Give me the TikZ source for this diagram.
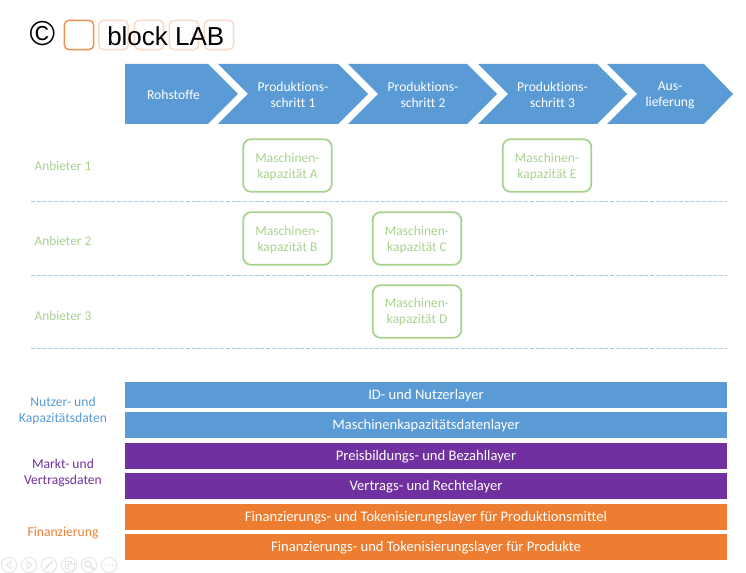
\documentclass[tikz,border=0pt]{standalone}
\usepackage{fontspec}
\setmainfont[Ligatures=NoCommon]{Carlito}
\newfontfamily\logofont{Liberation Sans}
\definecolor{cblue}{HTML}{5B9BD5}
\definecolor{cpurple}{HTML}{7030A0}
\definecolor{corange}{HTML}{ED7D31}
\definecolor{cgreen}{HTML}{A9D18E}
\definecolor{cdash}{HTML}{A9C9E8}
\definecolor{cfade}{HTML}{FAD9C6}
\definecolor{cnav}{HTML}{E4E4E4}
\tikzset{
  chev/.style={fill=cblue,draw=none},
  chevtext/.style={text=white,font=\fontsize{10.2}{12}\selectfont,align=center,inner sep=0pt},
  machine/.style={draw=cgreen,line width=1.3pt,rounded corners=6pt,minimum width=66.5pt,minimum height=39.5pt,inner sep=0pt},
  machinetext/.style={text=cgreen,font=\fontsize{10.1}{12}\selectfont,align=center,inner sep=0pt},
  rowlabel/.style={text=cgreen,font=\fontsize{10}{12}\selectfont,inner sep=0pt},
  grouplabel/.style={font=\fontsize{10.2}{12.4}\selectfont,align=center,inner sep=0pt},
  layerbar/.style={minimum width=451.5pt,minimum height=19.5pt,inner sep=0pt},
  layertext/.style={text=white,font=\fontsize{10.95}{13}\selectfont,inner sep=0pt},
  divider/.style={draw=cdash,line width=0.7pt,dash pattern=on 3pt off 1.3pt},
  logobox/.style={draw=cfade,line width=1.1pt,rounded corners=3.5pt,minimum width=22pt,minimum height=22pt,inner sep=0pt},
  navcircle/.style={draw=cnav,line width=0.7pt,circle,minimum size=11.5pt,inner sep=0pt},
  navmark/.style={draw=cnav,line width=0.7pt}
}
\begin{document}
\begin{tikzpicture}[x=0.75pt,y=-0.75pt]
\useasboundingbox (0,0) rectangle (746,573);
% logo
\node[logobox,draw=corange!85] (l0) at (79,35) {};
\node[logobox] (l1) at (113.5,35) {};
\node[logobox] (l2) at (149,35) {};
\node[logobox] (l3) at (184,35) {};
\node[logobox] (l4) at (219,35) {};
\node[inner sep=0pt,font=\logofont\fontsize{26}{27}\selectfont] (copy) at (42.5,34) {©};
\node[inner sep=0pt,anchor=base west,font=\logofont\fontsize{19.5}{20}\selectfont] (logotext) at (107,45.5) {block LAB};
% chevrons
\fill[chev] (125,64) -- (208,64) -- (238,94) -- (208,124) -- (125,124) -- cycle;
\fill[chev] (218,64) -- (338,64) -- (368,94) -- (338,124) -- (218,124) -- (248,94) -- cycle;
\fill[chev] (348,64) -- (467,64) -- (497,94) -- (467,124) -- (348,124) -- (378,94) -- cycle;
\fill[chev] (478,64) -- (597,64) -- (627,94) -- (597,124) -- (478,124) -- (508,94) -- cycle;
\fill[chev] (607,64) -- (704,64) -- (733,94) -- (704,124) -- (607,124) -- (637,94) -- cycle;
\node[chevtext] (c1) at (173.5,95) {Rohstoffe};
\node[chevtext] (c2) at (293,95) {Produktions-\\schritt 1};
\node[chevtext] (c3) at (423,95) {Produktions-\\schritt 2};
\node[chevtext] (c4) at (552.5,95) {Produktions-\\schritt 3};
\node[chevtext] (c5) at (670,95) {Aus-\\lieferung};
% rows
\node[rowlabel] (r1) at (63,165.5) {Anbieter 1};
\node[rowlabel] (r2) at (63,240.5) {Anbieter 2};
\node[rowlabel] (r3) at (63,315.5) {Anbieter 3};
\node[machine] (mA) at (287.5,165.5) {};
\node[machine] (mE) at (547,165.5) {};
\node[machine] (mB) at (287.5,238.5) {};
\node[machine] (mC) at (417,238.5) {};
\node[machine] (mD) at (417,311.5) {};
\node[machinetext] (tA) at (287.5,166.5) {Maschinen-\\kapazität A};
\node[machinetext] (tE) at (547,166.5) {Maschinen-\\kapazität E};
\node[machinetext] (tB) at (287.5,239.5) {Maschinen-\\kapazität B};
\node[machinetext] (tC) at (417,239.5) {Maschinen-\\kapazität C};
\node[machinetext] (tD) at (417,312) {Maschinen-\\kapazität D};
\coordinate (d1a) at (31,201.5); \coordinate (d1b) at (727,201.5);
\coordinate (d2a) at (31,275); \coordinate (d2b) at (727,275);
\coordinate (d3a) at (31,348); \coordinate (d3b) at (727,348);
\draw[divider] (d1a) -- (d1b);
\draw[divider] (d2a) -- (d2b);
\draw[divider] (d3a) -- (d3b);
% layers
\node[grouplabel,text=cblue] (g1) at (63,411) {Nutzer- und\\Kapazitätsdaten};
\node[grouplabel,text=cpurple] (g2) at (63,473) {Markt- und\\Vertragsdaten};
\node[grouplabel,text=corange] (g3) at (63,533) {Finanzierung};
\node[layerbar,fill=cblue] (b1) at (426,395) {};
\node[layerbar,fill=cblue] (b2) at (426,425) {};
\node[layerbar,fill=cpurple] (b3) at (426,456) {};
\node[layerbar,fill=cpurple] (b4) at (426,486) {};
\node[layerbar,fill=corange] (b5) at (426,517) {};
\node[layerbar,fill=corange] (b6) at (426,547) {};
\node[layertext] (t1) at (426,396) {ID- und Nutzerlayer};
\node[layertext] (t2) at (426,426) {Maschinenkapazitätsdatenlayer};
\node[layertext] (t3) at (426,457) {Preisbildungs- und Bezahllayer};
\node[layertext] (t4) at (426,487) {Vertrags- und Rechtelayer};
\node[layertext] (t5) at (426,518) {Finanzierungs- und Tokenisierungslayer für Produktionsmittel};
\node[layertext] (t6) at (426,548) {Finanzierungs- und Tokenisierungslayer für Produkte};
% slide-show controls
\foreach \i/\cx in {1/9,2/29,3/49,4/69,5/89,6/109}{\node[navcircle] (n\i) at (\cx,565) {};}
\draw[navmark] (11,561) -- (6.5,565) -- (11,569) -- cycle;
\draw[navmark] (27,561) -- (31.5,565) -- (27,569) -- cycle;
\draw[navmark,line width=1.2pt] (45,569) -- (53,561);
\draw[navmark] (65,561) rectangle (71,568);
\draw[navmark,fill=white] (68,563) rectangle (74,570);
\draw[navmark,line width=1pt] (88,564) circle (3);
\draw[navmark,line width=1.3pt] (90.5,566.5) -- (94,570);
\fill[cnav] (105,565) circle (1) (109,565) circle (1) (113,565) circle (1);
\end{tikzpicture}
\end{document}
